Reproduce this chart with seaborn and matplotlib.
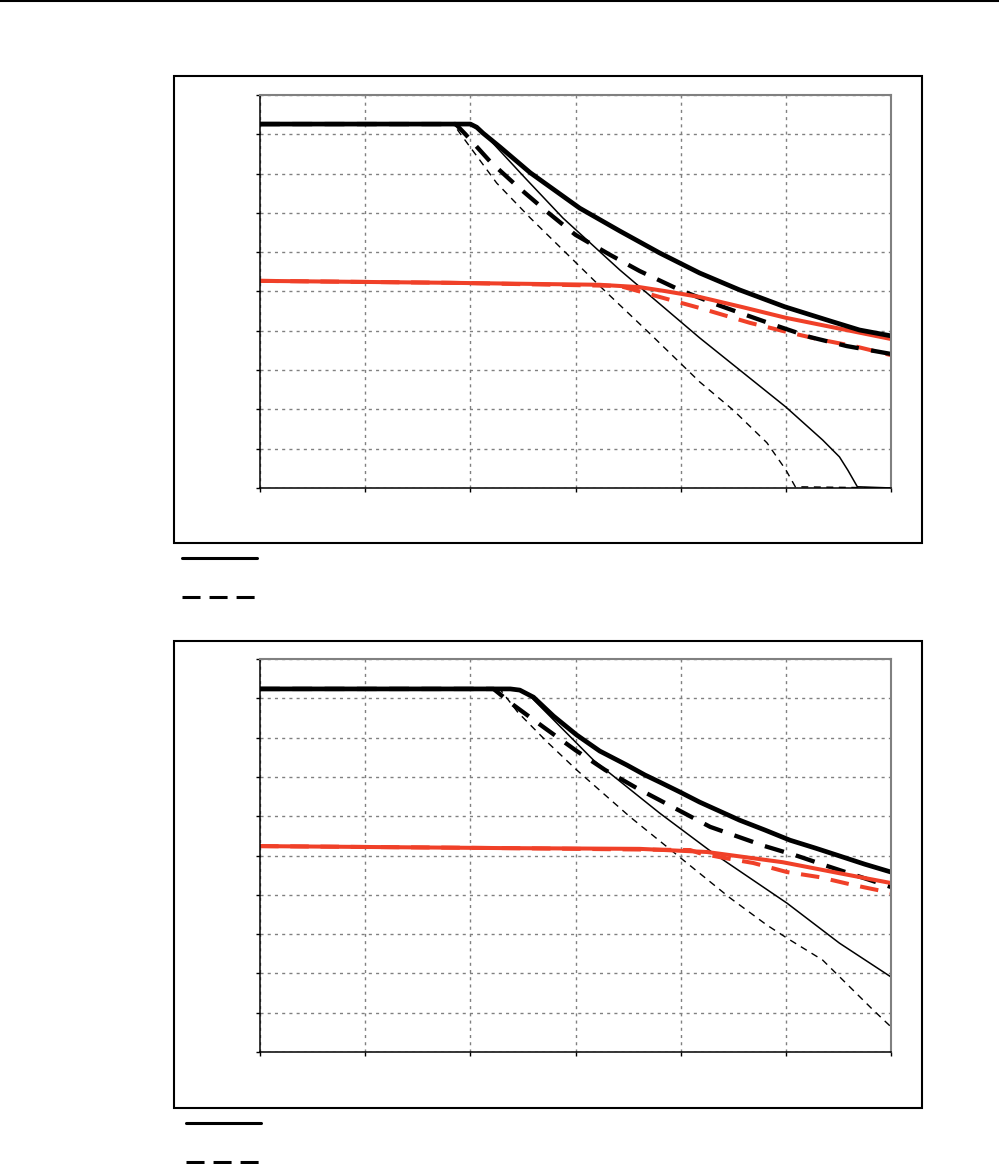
import matplotlib
matplotlib.use("Agg")
import matplotlib.pyplot as plt
from matplotlib.lines import Line2D
from matplotlib.patches import Rectangle
import seaborn as sns

sns.set_style("white")
plt.rcParams['font.family'] = ['DejaVu Sans']

# ---------------- data (x: 0..6, y: 0..10) ----------------
x_ticks = [0, 1, 2, 3, 4, 5, 6]
y_ticks = [0, 1, 2, 3, 4, 5, 6, 7, 8, 9, 10]

# top chart
top_thick_solid_x = [0, 2.00, 2.06, 2.12, 2.28, 2.57, 3.04, 3.42, 3.80, 4.18, 4.56, 4.99, 5.42, 5.70, 6.00]
top_thick_solid_y = [9.26, 9.26, 9.18, 9.03, 8.68, 8.02, 7.12, 6.54, 5.98, 5.47, 5.04, 4.61, 4.25, 4.02, 3.87]

top_thick_dash_x = [0, 1.86, 1.95, 2.19, 2.44, 2.71, 3.00, 3.33, 3.61, 3.99, 4.35, 4.59, 4.92, 5.23, 5.58, 6.00]
top_thick_dash_y = [9.26, 9.26, 9.01, 8.30, 7.69, 7.07, 6.44, 5.93, 5.52, 5.04, 4.66, 4.43, 4.12, 3.84, 3.61, 3.41]

top_red_solid_x = [0, 1.81, 3.23, 3.61, 3.85, 4.18, 4.59, 5.00, 5.50, 6.00]
top_red_solid_y = [5.27, 5.22, 5.17, 5.11, 5.01, 4.86, 4.60, 4.33, 4.06, 3.79]

top_red_dash_x = [0, 1.81, 3.42, 3.80, 4.18, 4.66, 5.01, 5.30, 5.68, 6.00]
top_red_dash_y = [5.27, 5.22, 5.14, 4.86, 4.58, 4.20, 3.97, 3.79, 3.59, 3.38]

top_thin_solid_x = [0, 2.00, 2.16, 2.52, 2.88, 3.42, 4.18, 5.00, 5.35, 5.51, 5.59, 5.68, 6.00]
top_thin_solid_y = [9.26, 9.26, 8.93, 7.89, 6.87, 5.55, 3.82, 2.06, 1.22, 0.79, 0.45, 0.03, 0.0]

top_thin_dash_x = [0, 1.84, 1.90, 2.25, 2.57, 3.23, 3.71, 4.18, 4.50, 4.82, 5.00, 5.09, 6.00]
top_thin_dash_y = [9.26, 9.26, 9.03, 7.76, 6.87, 5.14, 3.92, 2.70, 1.98, 1.15, 0.46, 0.03, 0.0]

# bottom chart
bot_thick_solid_x = [0, 2.38, 2.47, 2.60, 2.79, 3.01, 3.23, 3.49, 3.66, 3.80, 3.99, 4.18, 4.37, 4.56, 4.80, 5.04, 5.28, 5.51, 5.75, 6.00]
bot_thick_solid_y = [9.24, 9.24, 9.21, 9.03, 8.55, 8.07, 7.66, 7.30, 7.05, 6.87, 6.62, 6.36, 6.13, 5.90, 5.65, 5.39, 5.19, 4.99, 4.78, 4.58]

bot_thick_dash_x = [0, 2.22, 2.41, 2.71, 3.00, 3.28, 3.58, 3.80, 4.28, 4.80, 5.11, 5.42, 6.00]
bot_thick_dash_y = [9.24, 9.24, 8.83, 8.24, 7.68, 7.18, 6.72, 6.41, 5.73, 5.24, 4.99, 4.71, 4.20]

bot_red_solid_x = [0, 2.28, 3.61, 4.25, 4.97, 5.51, 6.00]
bot_red_solid_y = [5.24, 5.19, 5.17, 5.09, 4.83, 4.55, 4.30]

bot_red_dash_x = [0, 2.28, 4.09, 4.18, 4.37, 4.69, 5.01, 5.32, 5.64, 6.00]
bot_red_dash_y = [5.24, 5.19, 5.14, 5.06, 4.96, 4.81, 4.58, 4.45, 4.25, 4.05]

bot_thin_solid_x = [0, 2.41, 2.54, 3.17, 3.80, 4.31, 5.01, 5.51, 6.00]
bot_thin_solid_y = [9.24, 9.24, 9.13, 7.43, 6.08, 5.06, 3.79, 2.77, 1.91]

bot_thin_dash_x = [0, 2.28, 2.45, 2.73, 3.01, 3.26, 3.52, 3.99, 4.47, 4.82, 5.01, 5.35, 5.83, 6.00]
bot_thin_dash_y = [9.24, 9.24, 8.65, 7.89, 7.18, 6.59, 5.98, 4.96, 3.92, 3.23, 2.90, 2.34, 1.07, 0.64]

# ---------------- styles ----------------
RED = "#F04028"
GRID = "#808080"
THICK_DASH = (0, (4.6, 2.9))
THIN_DASH = (0, (5, 4))

fig = plt.figure(figsize=(9.99, 11.64), dpi=100)

def style_axes(ax):
    ax.set_xlim(x_ticks[0], x_ticks[-1])
    ax.set_ylim(y_ticks[0], y_ticks[-1])
    ax.set_xticks(x_ticks)
    ax.set_yticks(y_ticks)
    ax.tick_params(axis="both", direction="out", length=3, width=1, color="black",
                   labelleft=False, labelbottom=False, left=True, bottom=True)
    ax.grid(True, color=GRID, linestyle=(0, (2.2, 3)), linewidth=1)
    ax.set_axisbelow(True)
    for s in ("left", "bottom"):
        ax.spines[s].set_color("black")
        ax.spines[s].set_linewidth(1.1)
    for s in ("top", "right"):
        ax.spines[s].set_color(GRID)
        ax.spines[s].set_linewidth(1.5)
    ax.set_xlabel("")
    ax.set_ylabel("")
    ax.set_facecolor("white")

def draw(ax, series):
    for xs, ys, color, lw, ls in series:
        sns.lineplot(x=xs, y=ys, ax=ax, color=color, linewidth=lw, linestyle=ls,
                     estimator=None, sort=False, legend=False)

ax_top = fig.add_axes([0.2603, 0.5808, 0.6316, 0.3376])
ax_bot = fig.add_axes([0.2603, 0.0962, 0.6316, 0.3376])

draw(ax_top, [
    (top_thin_dash_x, top_thin_dash_y, "black", 1.0, THIN_DASH),
    (top_thin_solid_x, top_thin_solid_y, "black", 1.1, "-"),
    (top_red_dash_x, top_red_dash_y, RED, 2.9, THICK_DASH),
    (top_thick_dash_x, top_thick_dash_y, "black", 3.1, THICK_DASH),
    (top_red_solid_x, top_red_solid_y, RED, 2.9, "-"),
    (top_thick_solid_x, top_thick_solid_y, "black", 3.4, "-"),
])
draw(ax_bot, [
    (bot_thin_dash_x, bot_thin_dash_y, "black", 1.0, THIN_DASH),
    (bot_thin_solid_x, bot_thin_solid_y, "black", 1.1, "-"),
    (bot_red_dash_x, bot_red_dash_y, RED, 2.9, THICK_DASH),
    (bot_thick_dash_x, bot_thick_dash_y, "black", 3.1, THICK_DASH),
    (bot_red_solid_x, bot_red_solid_y, RED, 2.9, "-"),
    (bot_thick_solid_x, bot_thick_solid_y, "black", 3.4, "-"),
])
style_axes(ax_top)
style_axes(ax_bot)

# frames around each chart
for y0 in (0.5335, 0.0481):
    fig.add_artist(Rectangle((0.1742, y0), 0.7487, 0.4012, fill=False,
                             edgecolor="black", linewidth=1.5,
                             transform=fig.transFigure))

# legend samples (no text)
for (xa, xb, ys, yd) in ((0.1822, 0.2573, 0.5206, 0.4871),
                         (0.1862, 0.2613, 0.0352, 0.0019)):
    fig.add_artist(Line2D([xa, xb], [ys, ys], color="black", linewidth=2.2,
                          transform=fig.transFigure))
    fig.add_artist(Line2D([xa, xb], [yd, yd], color="black", linewidth=2.2,
                          linestyle=(0, (5.9, 2.95)), solid_capstyle="butt",
                          dash_capstyle="butt", transform=fig.transFigure))

# page rule at top
fig.add_artist(Line2D([0, 1], [0.99914, 0.99914], color="black", linewidth=1.5,
                      transform=fig.transFigure))

fig.savefig("out.png", dpi=100, facecolor="white")
